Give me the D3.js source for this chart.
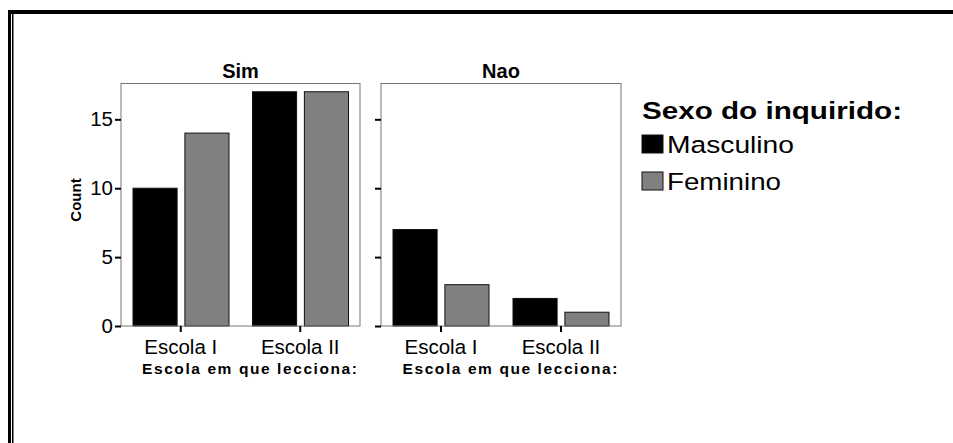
<!DOCTYPE html>
<html>
<head>
<meta charset="utf-8">
<script src="https://cdn.jsdelivr.net/npm/d3@7"></script>
<style>
  html, body { margin: 0; padding: 0; background: #fff; }
  svg { display: block; font-family: Arial, 'Liberation Sans', sans-serif; }
</style>
</head>
<body>
<svg id="chart" width="953" height="443"></svg>
<script>
// ---- data ----
const panels = ["Sim", "Nao"];
const schools = ["Escola I", "Escola II"];
const sexes = ["Masculino", "Feminino"];
const simValues = [10, 14, 17, 17];   // Escola I M, F, Escola II M, F
const naoValues = [7, 3, 2, 1];
const yTicks = [0, 5, 10, 15];
const xAxisTitle = "Escola em que lecciona:";
const yAxisTitle = "Count";
const legendTitle = "Sexo do inquirido:";

const panelData = [simValues, naoValues].map((vals, p) => ({
  name: panels[p],
  rows: schools.flatMap((s, i) => sexes.map((g, j) => ({ school: s, sex: g, value: vals[i * 2 + j] })))
}));

const svg = d3.select("#chart");
svg.append("rect").attr("width", 953).attr("height", 443).attr("fill", "#fff");

// outer frame (top + left double line)
svg.append("rect").attr("x", 8).attr("y", 10).attr("width", 945).attr("height", 4).attr("fill", "#000");
svg.append("rect").attr("x", 8).attr("y", 10).attr("width", 3).attr("height", 433).attr("fill", "#000");
svg.append("rect").attr("x", 12).attr("y", 14).attr("width", 1.5).attr("height", 429).attr("fill", "#000");

const color = d3.scaleOrdinal().domain(sexes).range(["#000000", "#808080"]);
const y = d3.scaleLinear().domain([0, 17.6]).range([326, 83.5]);
const panelRanges = [[121, 360], [381, 621]];

panelData.forEach((pd, p) => {
  const [x0, x1] = panelRanges[p];
  const x = d3.scaleBand().domain(schools).range([x0, x1]).padding(0);
  const xs = d3.scaleBand().domain(sexes).range([12, 108]).paddingInner(0.15).paddingOuter(0);
  const g = svg.append("g");

  // bars
  g.selectAll("rect.bar").data(pd.rows).join("rect")
    .attr("class", "bar")
    .attr("x", d => x(d.school) + xs(d.sex))
    .attr("width", xs.bandwidth())
    .attr("y", d => y(d.value))
    .attr("height", d => y(0) - y(d.value))
    .attr("fill", d => color(d.sex))
    .attr("stroke", "#111")
    .attr("stroke-width", 1);

  // panel frame
  g.append("rect").attr("x", x0).attr("y", y.range()[1])
    .attr("width", x1 - x0).attr("height", y(0) - y.range()[1])
    .attr("fill", "none").attr("stroke", "#777").attr("stroke-width", 1);

  // y axis
  const ya = g.append("g").attr("transform", `translate(${x0},0)`)
    .call(d3.axisLeft(y).tickValues(yTicks).tickSize(6).tickPadding(2).tickFormat(p === 0 ? d3.format("d") : () => ""));
  ya.select(".domain").remove();
  ya.selectAll(".tick line").attr("stroke", "#000").attr("stroke-width", 2);
  ya.selectAll(".tick text").attr("font-size", 20.5).attr("fill", "#000").attr("font-family", "Arial, 'Liberation Sans', sans-serif");

  // x axis
  const xa = g.append("g").attr("transform", `translate(0,${y(0)})`)
    .call(d3.axisBottom(x).tickSize(6).tickPadding(0));
  xa.select(".domain").remove();
  xa.selectAll(".tick line").attr("stroke", "#000").attr("stroke-width", 2);
  xa.selectAll(".tick text").attr("font-size", 20.5).attr("fill", "#000")
    .attr("font-family", "Arial, 'Liberation Sans', sans-serif")
    .attr("dy", null).attr("y", 28);

  // panel title
  g.append("text").attr("x", (x0 + x1) / 2).attr("y", 77.5).attr("text-anchor", "middle")
    .attr("font-size", 20).attr("font-weight", "bold").text(pd.name);

  // x axis title
  g.append("text").attr("x", (x0 + x1) / 2 + 9).attr("y", 373.5).attr("text-anchor", "middle")
    .attr("font-size", 15.5).attr("font-weight", "bold")
    .attr("textLength", 215).attr("lengthAdjust", "spacing").text(xAxisTitle);
});

// y axis title
svg.append("text").attr("transform", "translate(81,200) rotate(-90)")
  .attr("text-anchor", "middle").attr("font-size", 15).attr("font-weight", "bold").text(yAxisTitle);

// legend
const lg = svg.append("g");
lg.append("text").attr("x", 642).attr("y", 118.5).attr("font-size", 24).attr("font-weight", "bold")
  .attr("textLength", 260).attr("lengthAdjust", "spacingAndGlyphs").text(legendTitle);
const legendY = d3.scaleBand().domain(sexes).range([135, 209]).padding(0);
const legendWidths = [127, 114];
sexes.forEach((s, i) => {
  lg.append("rect").attr("x", 642).attr("y", legendY(s)).attr("width", 21).attr("height", 18)
    .attr("fill", color(s)).attr("stroke", "#111").attr("stroke-width", 1);
  lg.append("text").attr("x", 667).attr("y", legendY(s) + 18).attr("font-size", 24.5)
    .attr("textLength", legendWidths[i]).attr("lengthAdjust", "spacingAndGlyphs").text(s);
});
</script>
</body>
</html>
